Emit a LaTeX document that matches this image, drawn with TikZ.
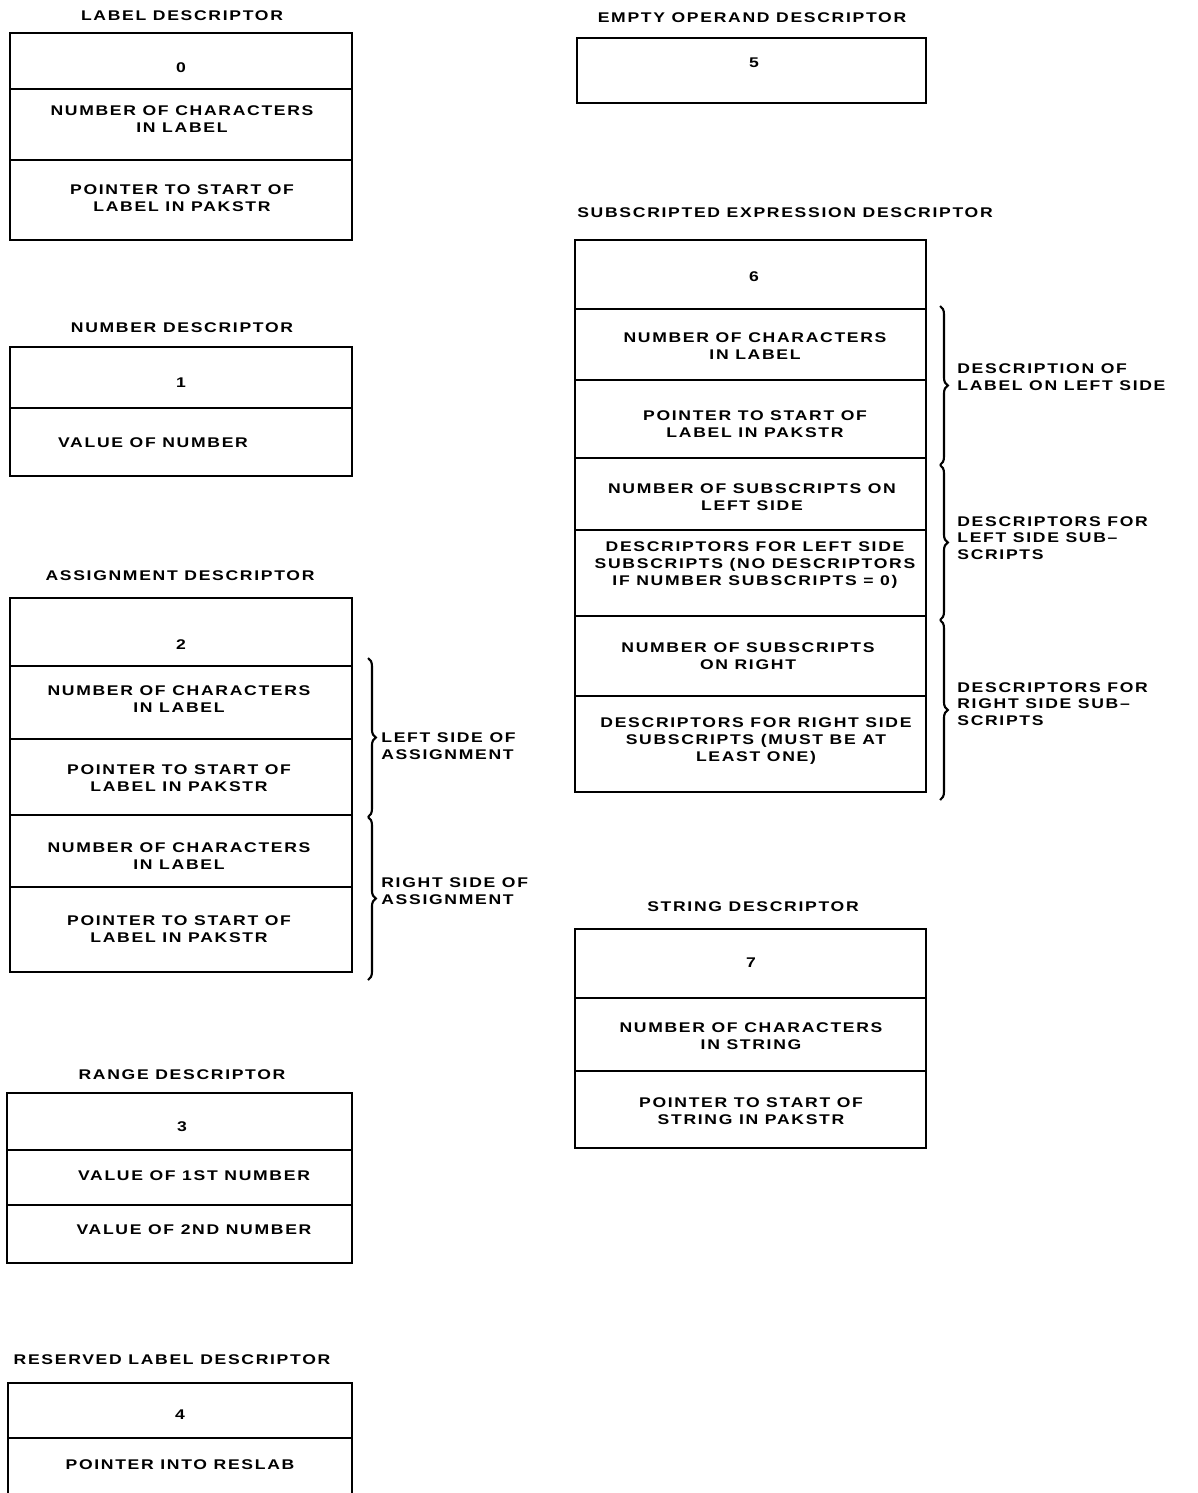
\documentclass[tikz,border=0pt]{standalone}
\usepackage{fontspec}
\newfontfamily\lettering{Liberation Sans}[FakeStretch=1.25,LetterSpace=12]
\usetikzlibrary{decorations.pathreplacing}

\begin{document}
\begin{tikzpicture}[x=0.02cm,y=-0.02cm,
  every node/.style={font=\lettering\bfseries\fontsize{8}{9.5}\selectfont, align=center, inner sep=0pt},
  frame/.style={line width=1.6pt},
  rule/.style={line width=1.1pt},
  side/.style={decorate, decoration={brace,amplitude=4.5pt}, line width=1.2pt},
  note/.style={anchor=west, align=left}]
\useasboundingbox (0,0) rectangle (1197,1493);

\node (t0) at (182,16) {LABEL DESCRIPTOR};
\draw[frame] (10,33) rectangle (352,240);
\draw[rule] (10,89) -- (352,89) (10,160) -- (352,160);
\node (c0) at (181,68) {0};
\node (n0) at (182,119) {NUMBER OF CHARACTERS\\IN LABEL};
\node (p0) at (182,198) {POINTER TO START OF\\LABEL IN PAKSTR};

\node (t1) at (182,328) {NUMBER DESCRIPTOR};
\draw[frame] (10,347) rectangle (352,476);
\draw[rule] (10,408) -- (352,408);
\node (c1) at (181,383) {1};
\node (v1) at (153,443) {VALUE OF NUMBER};

\node (t2) at (180,576) {ASSIGNMENT DESCRIPTOR};
\draw[frame] (10,598) rectangle (352,972);
\draw[rule] (10,666) -- (352,666) (10,739) -- (352,739) (10,815) -- (352,815) (10,887) -- (352,887);
\node (c2) at (181,645) {2};
\node (n2a) at (179,699) {NUMBER OF CHARACTERS\\IN LABEL};
\node (p2a) at (179,778) {POINTER TO START OF\\LABEL IN PAKSTR};
\node (n2b) at (179,856) {NUMBER OF CHARACTERS\\IN LABEL};
\node (p2b) at (179,929) {POINTER TO START OF\\LABEL IN PAKSTR};
\coordinate (b2a) at (368,658);
\coordinate (b2b) at (368,817);
\coordinate (b2c) at (368,980);
\draw[side] (b2a) -- (b2b);
\draw[side] (b2b) -- (b2c);
\node[note] (l2) at (381,746) {LEFT SIDE OF\\ASSIGNMENT};
\node[note] (r2) at (381,891) {RIGHT SIDE OF\\ASSIGNMENT};

\node (t3) at (182,1075) {RANGE DESCRIPTOR};
\draw[frame] (7,1093) rectangle (352,1263);
\draw[rule] (7,1150) -- (352,1150) (7,1205) -- (352,1205);
\node (c3) at (182,1127) {3};
\node (v3a) at (194,1176) {VALUE OF 1ST NUMBER};
\node (v3b) at (194,1230) {VALUE OF 2ND NUMBER};

\node (t4) at (172,1360) {RESERVED LABEL DESCRIPTOR};
\draw[frame] (8,1500) -- (8,1383) -- (352,1383) -- (352,1500);
\draw[rule] (8,1438) -- (352,1438);
\node (c4) at (180,1415) {4};
\node (p4) at (180,1465) {POINTER INTO RESLAB};

\node (t5) at (752,18) {EMPTY OPERAND DESCRIPTOR};
\draw[frame] (577,38) rectangle (926,103);
\node (c5) at (754,63) {5};

\node[anchor=west] (t6) at (577,213) {SUBSCRIPTED EXPRESSION DESCRIPTOR};
\draw[frame] (575,240) rectangle (926,792);
\draw[rule] (575,309) -- (926,309) (575,380) -- (926,380) (575,458) -- (926,458)
  (575,530) -- (926,530) (575,616) -- (926,616) (575,696) -- (926,696);
\node (c6) at (754,277) {6};
\node (n6) at (755,346) {NUMBER OF CHARACTERS\\IN LABEL};
\node (p6) at (755,424) {POINTER TO START OF\\LABEL IN PAKSTR};
\node (s6a) at (752,497) {NUMBER OF SUBSCRIPTS ON\\LEFT SIDE};
\node (d6a) at (755,565) {DESCRIPTORS FOR LEFT SIDE\\SUBSCRIPTS (NO DESCRIPTORS\\IF NUMBER SUBSCRIPTS = 0)};
\node (s6b) at (748,656) {NUMBER OF SUBSCRIPTS\\ON RIGHT};
\node (d6b) at (756,741) {DESCRIPTORS FOR RIGHT SIDE\\SUBSCRIPTS (MUST BE AT\\LEAST ONE)};
\coordinate (b6a) at (940,306);
\coordinate (b6b) at (940,465);
\coordinate (b6c) at (940,620);
\coordinate (b6d) at (940,800);
\draw[side] (b6a) -- (b6b);
\draw[side] (b6b) -- (b6c);
\draw[side] (b6c) -- (b6d);
\node[note] (l6a) at (957,377) {DESCRIPTION OF\\LABEL ON LEFT SIDE};
\node[note] (l6b) at (957,538) {DESCRIPTORS FOR\\LEFT SIDE SUB\textendash\\SCRIPTS};
\node[note] (l6c) at (957,704) {DESCRIPTORS FOR\\RIGHT SIDE SUB\textendash\\SCRIPTS};

\node (t7) at (753,907) {STRING DESCRIPTOR};
\draw[frame] (575,929) rectangle (926,1148);
\draw[rule] (575,998) -- (926,998) (575,1071) -- (926,1071);
\node (c7) at (751,963) {7};
\node (n7) at (751,1036) {NUMBER OF CHARACTERS\\IN STRING};
\node (p7) at (751,1111) {POINTER TO START OF\\STRING IN PAKSTR};
\end{tikzpicture}
\end{document}
